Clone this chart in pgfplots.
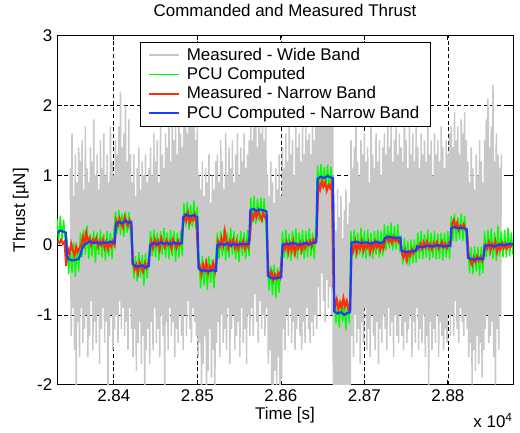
\documentclass[border=0pt]{standalone}
\usepackage{fontspec}
\setmainfont{Liberation Sans}
\usepackage{pgfplots}
\usepackage{pgfplotstable}
\pgfplotsset{compat=1.18}
\definecolor{wgray}{RGB}{200,200,200}
\definecolor{pgreen}{RGB}{0,255,0}
\definecolor{nred}{RGB}{255,45,10}
\definecolor{nblue}{RGB}{25,60,255}
\newcommand{\ff}{\fontsize{12.7}{15}\selectfont}

\pgfplotstableread[row sep=\\]{x y\\
28348 1.1\\ 28349 -1.3\\ 28350 1.6\\ 28351 -0.9\\ 28352 0.7\\ 28353 -1.5\\ 28354 1.3\\ 28355 -2.2\\ 28356 0.9\\ 28357 -1.1\\ 28358 1.4\\ 28359 -1.6\\
28360 1.2\\ 28361 -0.9\\ 28362 1.5\\ 28363 -1.4\\ 28364 0.8\\ 28365 -1.2\\ 28366 1.7\\ 28367 -1.0\\ 28368 1.1\\ 28369 -1.6\\ 28370 0.9\\ 28371 -1.3\\
28372 1.4\\ 28373 -0.8\\ 28374 1.2\\ 28375 -1.5\\ 28376 1.8\\ 28377 -1.1\\ 28378 1.0\\ 28379 -1.4\\ 28380 1.3\\ 28381 -1.0\\ 28382 0.8\\ 28383 -1.7\\
28384 1.5\\ 28385 -1.2\\ 28386 1.1\\ 28387 -0.9\\ 28388 1.6\\ 28389 -1.4\\ 28390 1.0\\ 28391 -1.1\\ 28392 1.3\\ 28393 -2.3\\ 28394 0.9\\ 28395 -1.3\\
28396 1.7\\ 28397 -1.0\\ 28398 1.2\\ 28399 -1.5\\ 28400 1.0\\ 28401 -1.2\\
28402 1.5\\ 28403 -1.0\\ 28404 1.3\\ 28405 -1.4\\ 28406 1.7\\ 28407 -0.8\\ 28408 2.2\\ 28409 -1.2\\ 28410 1.4\\ 28411 -0.9\\ 28412 1.6\\ 28413 -1.3\\
28414 2.0\\ 28415 -1.1\\ 28416 1.2\\ 28417 -1.5\\ 28418 1.8\\ 28419 -0.9\\ 28420 1.3\\ 28421 -1.2\\
28422 0.9\\ 28423 -1.6\\ 28424 1.3\\ 28425 -1.2\\ 28426 0.7\\ 28427 -1.8\\ 28428 1.1\\ 28429 -1.4\\ 28430 1.4\\ 28431 -1.1\\ 28432 0.8\\ 28433 -1.7\\
28434 1.2\\ 28435 -1.3\\ 28436 1.0\\ 28437 -2.4\\ 28438 1.3\\ 28439 -1.5\\ 28440 0.9\\ 28441 -1.2\\ 28442 1.1\\ 28443 -1.7\\
28444 1.4\\ 28445 -1.1\\ 28446 1.0\\ 28447 -1.5\\ 28448 1.6\\ 28449 -0.9\\ 28450 1.2\\ 28451 -1.4\\ 28452 1.5\\ 28453 -1.2\\ 28454 0.9\\ 28455 -1.6\\
28456 1.7\\ 28457 -1.0\\ 28458 1.3\\ 28459 -1.3\\ 28460 1.1\\ 28461 -2.3\\ 28462 1.6\\ 28463 -1.1\\ 28464 1.4\\ 28465 -1.5\\ 28466 1.9\\ 28467 -0.9\\
28468 1.2\\ 28469 -1.3\\ 28470 1.8\\ 28471 -1.1\\ 28472 1.5\\ 28473 -1.6\\ 28474 1.7\\ 28475 -1.2\\ 28476 1.3\\ 28477 -1.4\\ 28478 2.0\\ 28479 -1.0\\
28480 1.6\\ 28481 -1.3\\ 28482 1.4\\ 28483 -1.5\\
28484 1.8\\ 28485 -1.0\\ 28486 2.1\\ 28487 -1.3\\ 28488 1.6\\ 28489 -0.8\\ 28490 2.2\\ 28491 -1.2\\ 28492 1.7\\ 28493 -1.4\\ 28494 1.9\\ 28495 -0.9\\
28496 2.0\\ 28497 -1.1\\ 28498 1.5\\ 28499 -1.3\\ 28500 1.8\\
28501 -1.6\\ 28502 1.0\\ 28503 -1.4\\ 28504 0.8\\ 28505 -2.4\\ 28506 1.2\\ 28507 -1.7\\ 28508 0.7\\ 28509 -1.3\\ 28510 1.1\\ 28511 -2.3\\ 28512 0.9\\
28513 -1.8\\ 28514 1.3\\ 28515 -1.2\\ 28516 0.6\\ 28517 -1.9\\ 28518 1.0\\ 28519 -1.5\\ 28520 0.8\\ 28521 -2.3\\ 28522 1.2\\ 28523 -1.4\\
28524 1.3\\ 28525 -1.1\\ 28526 0.9\\ 28527 -1.6\\ 28528 1.5\\ 28529 -1.0\\ 28530 1.2\\ 28531 -1.4\\ 28532 0.8\\ 28533 -1.2\\ 28534 1.6\\ 28535 -1.5\\
28536 1.0\\ 28537 -0.9\\ 28538 1.4\\ 28539 -1.7\\ 28540 1.1\\ 28541 -1.2\\ 28542 1.5\\ 28543 -1.0\\ 28544 0.9\\ 28545 -1.5\\ 28546 1.3\\ 28547 -1.3\\
28548 1.6\\ 28549 -1.1\\ 28550 1.0\\ 28551 -1.6\\ 28552 1.4\\ 28553 -0.9\\ 28554 1.2\\ 28555 -1.4\\ 28556 1.6\\ 28557 -1.2\\ 28558 1.1\\ 28559 -1.7\\
28560 1.3\\ 28561 -1.0\\ 28562 1.5\\ 28563 -1.3\\
28564 1.8\\ 28565 -0.9\\ 28566 1.5\\ 28567 -1.3\\ 28568 2.0\\ 28569 -0.7\\ 28570 1.7\\ 28571 -1.1\\ 28572 1.4\\ 28573 -1.4\\ 28574 2.1\\ 28575 -0.8\\
28576 1.6\\ 28577 -1.2\\ 28578 1.9\\ 28579 -1.0\\ 28580 1.5\\ 28581 -1.3\\ 28582 1.8\\ 28583 -0.9\\
28584 1.0\\ 28585 -1.7\\ 28586 0.7\\ 28587 -1.5\\ 28588 1.2\\ 28589 -2.0\\ 28590 0.9\\ 28591 -2.3\\ 28592 0.6\\ 28593 -1.8\\ 28594 1.1\\ 28595 -2.2\\
28596 0.8\\ 28597 -1.6\\ 28598 1.3\\ 28599 -2.3\\ 28600 0.7\\ 28601 -1.9\\
28602 1.4\\ 28603 -1.2\\ 28604 1.1\\ 28605 -1.5\\ 28606 1.6\\ 28607 -1.0\\ 28608 1.2\\ 28609 -1.3\\ 28610 1.7\\ 28611 -0.9\\ 28612 1.3\\ 28613 -1.4\\
28614 1.5\\ 28615 -1.1\\ 28616 1.0\\ 28617 -1.5\\ 28618 1.8\\ 28619 -1.2\\ 28620 1.4\\ 28621 -1.0\\ 28622 1.6\\ 28623 -1.3\\ 28624 1.2\\ 28625 -1.5\\
28626 1.7\\ 28627 -1.1\\ 28628 1.3\\ 28629 -1.4\\ 28630 1.8\\ 28631 -0.9\\ 28632 1.5\\ 28633 -1.2\\ 28634 1.6\\ 28635 -1.4\\ 28636 1.3\\ 28637 -1.1\\
28638 1.9\\ 28639 -1.3\\ 28640 1.5\\ 28641 -1.0\\ 28642 1.7\\ 28643 -1.2\\
28644 2.6\\ 28645 -0.6\\ 28646 2.3\\ 28647 -1.0\\ 28648 2.8\\ 28649 -0.4\\ 28650 2.5\\ 28651 -0.8\\ 28652 2.2\\ 28653 -1.1\\ 28654 2.7\\ 28655 -0.5\\
28656 2.4\\ 28657 -0.9\\ 28658 2.6\\ 28659 -0.6\\ 28660 2.3\\ 28661 -1.0\\ 28662 2.5\\
28663 -2.8\\ 28664 0.6\\ 28665 -2.5\\ 28666 0.2\\ 28667 -3.0\\ 28668 0.8\\ 28669 -2.2\\ 28670 0.4\\ 28671 -2.7\\ 28672 0.7\\ 28673 -2.4\\ 28674 0.1\\
28675 -2.9\\ 28676 0.5\\ 28677 -2.3\\ 28678 0.8\\ 28679 -2.6\\ 28680 0.3\\ 28681 -2.8\\ 28682 0.6\\ 28683 -2.4\\
28684 1.5\\ 28685 -1.3\\ 28686 1.1\\ 28687 -1.6\\ 28688 1.4\\ 28689 -1.0\\ 28690 1.7\\ 28691 -1.4\\ 28692 1.2\\ 28693 -1.2\\ 28694 1.0\\ 28695 -1.7\\
28696 1.5\\ 28697 -1.1\\ 28698 1.3\\ 28699 -1.4\\ 28700 1.6\\ 28701 -0.9\\ 28702 1.2\\ 28703 -1.5\\ 28704 1.4\\ 28705 -1.2\\ 28706 0.9\\ 28707 -1.6\\
28708 1.7\\ 28709 -1.0\\ 28710 1.3\\ 28711 -1.3\\ 28712 1.1\\ 28713 -1.5\\ 28714 1.6\\ 28715 -1.1\\ 28716 1.2\\ 28717 -1.7\\ 28718 1.5\\ 28719 -1.2\\
28720 1.0\\ 28721 -1.4\\ 28722 1.4\\ 28723 -1.0\\
28724 1.6\\ 28725 -1.2\\ 28726 1.3\\ 28727 -1.5\\ 28728 1.8\\ 28729 -0.9\\ 28730 1.4\\ 28731 -1.3\\ 28732 1.7\\ 28733 -1.1\\ 28734 1.2\\ 28735 -1.6\\
28736 1.5\\ 28737 -1.0\\ 28738 1.8\\ 28739 -1.3\\ 28740 1.3\\ 28741 -1.4\\ 28742 1.6\\ 28743 -1.0\\ 28744 1.4\\
28745 -1.3\\ 28746 1.2\\ 28747 -1.5\\ 28748 2.9\\ 28749 -1.1\\ 28750 1.5\\ 28751 -1.4\\ 28752 1.1\\ 28753 -1.2\\ 28754 1.7\\ 28755 -1.0\\ 28756 1.3\\
28757 -1.6\\ 28758 1.6\\ 28759 -1.1\\ 28760 1.2\\ 28761 -1.4\\ 28762 1.8\\ 28763 -0.9\\ 28764 1.4\\ 28765 -1.5\\ 28766 1.1\\ 28767 -1.2\\ 28768 1.6\\
28769 -1.4\\ 28770 1.3\\ 28771 -1.0\\ 28772 1.5\\ 28773 -1.6\\ 28774 1.2\\ 28775 -1.3\\ 28776 1.7\\ 28777 -2.1\\ 28778 1.3\\ 28779 -1.1\\ 28780 1.5\\
28781 -1.5\\ 28782 1.0\\ 28783 -1.2\\ 28784 1.6\\ 28785 -1.4\\ 28786 1.3\\ 28787 -1.0\\ 28788 1.5\\ 28789 -1.6\\ 28790 1.2\\ 28791 -1.1\\ 28792 1.7\\
28793 -1.3\\ 28794 1.4\\ 28795 -1.5\\ 28796 1.1\\ 28797 -1.2\\ 28798 1.5\\ 28799 -1.4\\ 28800 1.3\\ 28801 -1.0\\ 28802 1.6\\ 28803 -1.3\\
28804 1.7\\ 28805 -1.0\\ 28806 1.4\\ 28807 -1.3\\ 28808 1.9\\ 28809 -0.8\\ 28810 1.5\\ 28811 -1.2\\ 28812 1.7\\ 28813 -1.4\\ 28814 1.3\\ 28815 -0.9\\
28816 1.8\\ 28817 -1.1\\ 28818 1.6\\ 28819 -1.3\\ 28820 1.9\\ 28821 -1.0\\ 28822 1.5\\ 28823 -1.2\\
28824 1.2\\ 28825 -1.6\\ 28826 0.9\\ 28827 -1.4\\ 28828 1.4\\ 28829 -2.0\\ 28830 1.1\\ 28831 -1.5\\ 28832 0.8\\ 28833 -1.8\\ 28834 1.3\\ 28835 -1.3\\
28836 1.0\\ 28837 -1.7\\ 28838 1.5\\ 28839 -1.4\\ 28840 1.2\\ 28841 -1.9\\ 28842 0.9\\ 28843 -1.5\\
28844 1.5\\ 28845 -1.2\\ 28846 1.8\\ 28847 -1.0\\ 28848 2.1\\ 28849 -1.4\\ 28850 1.4\\ 28851 -1.3\\ 28852 1.7\\ 28853 -1.1\\ 28854 2.3\\ 28855 -1.6\\
28856 1.2\\ 28857 -2.0\\ 28858 1.6\\ 28859 -1.2\\ 28860 1.3\\ 28861 -1.5\\ 28862 1.1\\ 28863 -1.0\\ 28864 1.3\\
}\wideband

\pgfplotstableread[row sep=\\]{x y\\
28332 0.38\\ 28334 0.06\\ 28336 0.42\\ 28338 0.08\\ 28340 0.36\\ 28342 0.04\\
28344 0.08\\ 28346 -0.42\\ 28348 -0.02\\ 28350 -0.4\\ 28352 0.04\\ 28354 -0.45\\ 28356 -0.05\\ 28358 -0.38\\
28360 0.18\\ 28362 -0.18\\ 28364 0.22\\ 28366 -0.14\\ 28368 0.28\\ 28370 -0.2\\ 28372 0.16\\ 28374 -0.16\\ 28376 0.2\\ 28378 -0.25\\ 28380 0.18\\
28382 -0.14\\ 28384 0.22\\ 28386 -0.18\\ 28388 0.16\\ 28390 -0.22\\ 28392 0.2\\ 28394 -0.16\\ 28396 0.18\\ 28398 -0.2\\ 28400 0.16\\
28402 0.48\\ 28404 0.16\\ 28406 0.5\\ 28408 0.14\\ 28410 0.45\\ 28412 0.12\\ 28414 0.48\\ 28416 0.18\\ 28418 0.47\\ 28420 0.16\\
28422 -0.12\\ 28424 -0.48\\ 28426 -0.16\\ 28428 -0.52\\ 28430 -0.1\\ 28432 -0.46\\ 28434 -0.14\\ 28436 -0.58\\ 28438 -0.12\\ 28440 -0.48\\ 28442 -0.16\\
28444 0.2\\ 28446 -0.16\\ 28448 0.22\\ 28450 -0.18\\ 28452 0.18\\ 28454 -0.22\\ 28456 0.2\\ 28458 -0.14\\ 28460 0.25\\ 28462 -0.18\\ 28464 0.18\\
28466 -0.2\\ 28468 0.22\\ 28470 -0.16\\ 28472 0.2\\ 28474 -0.24\\ 28476 0.18\\ 28478 -0.18\\ 28480 0.2\\ 28482 -0.16\\
28484 0.6\\ 28486 0.26\\ 28488 0.62\\ 28490 0.22\\ 28492 0.58\\ 28494 0.26\\ 28496 0.64\\ 28498 0.24\\ 28500 0.55\\
28502 -0.18\\ 28504 -0.62\\ 28506 -0.16\\ 28508 -0.58\\ 28510 -0.2\\ 28512 -0.64\\ 28514 -0.16\\ 28516 -0.54\\ 28518 -0.2\\ 28520 -0.62\\ 28522 -0.18\\
28524 0.18\\ 28526 -0.2\\ 28528 0.2\\ 28530 -0.16\\ 28532 0.24\\ 28534 -0.22\\ 28536 0.18\\ 28538 -0.18\\ 28540 0.25\\ 28542 -0.14\\ 28544 0.2\\
28546 -0.2\\ 28548 0.16\\ 28550 -0.24\\ 28552 0.2\\ 28554 -0.16\\ 28556 0.18\\ 28558 -0.2\\ 28560 0.22\\ 28562 -0.16\\
28564 0.68\\ 28566 0.32\\ 28568 0.7\\ 28570 0.3\\ 28572 0.66\\ 28574 0.34\\ 28576 0.68\\ 28578 0.32\\ 28580 0.67\\ 28582 0.34\\
28584 -0.28\\ 28586 -0.65\\ 28588 -0.3\\ 28590 -0.72\\ 28592 -0.28\\ 28594 -0.76\\ 28596 -0.32\\ 28598 -0.68\\ 28600 -0.28\\
28602 0.2\\ 28604 -0.18\\ 28606 0.22\\ 28608 -0.2\\ 28610 0.16\\ 28612 -0.22\\ 28614 0.2\\ 28616 -0.16\\ 28618 0.24\\ 28620 -0.2\\ 28622 0.18\\
28624 -0.14\\ 28626 0.22\\ 28628 -0.2\\ 28630 0.2\\ 28632 -0.18\\ 28634 0.24\\ 28636 -0.16\\ 28638 0.18\\ 28640 -0.2\\ 28642 0.28\\
28644 1.14\\ 28646 0.82\\ 28648 1.16\\ 28650 0.8\\ 28652 1.12\\ 28654 0.84\\ 28656 1.15\\ 28658 0.8\\ 28660 1.12\\ 28662 0.82\\
28664 -0.8\\ 28666 -1.12\\ 28668 -0.82\\ 28670 -1.18\\ 28672 -0.8\\ 28674 -1.1\\ 28676 -0.82\\ 28678 -1.22\\ 28680 -0.8\\ 28682 -1.12\\
28684 0.2\\ 28686 -0.16\\ 28688 0.22\\ 28690 -0.2\\ 28692 0.18\\ 28694 -0.14\\ 28696 0.25\\ 28698 -0.18\\ 28700 0.2\\ 28702 -0.2\\ 28704 0.22\\
28706 -0.16\\ 28708 0.18\\ 28710 -0.2\\ 28712 0.2\\ 28714 -0.14\\ 28716 0.22\\ 28718 -0.18\\ 28720 0.2\\ 28722 -0.16\\
28724 0.3\\ 28726 -0.08\\ 28728 0.28\\ 28730 -0.05\\ 28732 0.32\\ 28734 -0.08\\ 28736 0.28\\ 28738 -0.06\\ 28740 0.3\\ 28742 -0.05\\
28744 0.08\\ 28746 -0.28\\ 28748 0.1\\ 28750 -0.25\\ 28752 0.06\\ 28754 -0.3\\ 28756 0.08\\ 28758 -0.26\\ 28760 0.08\\ 28762 -0.25\\
28764 0.18\\ 28766 -0.2\\ 28768 0.2\\ 28770 -0.2\\ 28772 0.16\\ 28774 -0.18\\ 28776 0.22\\ 28778 -0.22\\ 28780 0.18\\ 28782 -0.18\\ 28784 0.2\\
28786 -0.2\\ 28788 0.16\\ 28790 -0.2\\ 28792 0.18\\ 28794 -0.22\\ 28796 0.18\\ 28798 -0.18\\ 28800 0.2\\ 28802 -0.2\\
28804 0.42\\ 28806 0.06\\ 28808 0.45\\ 28810 0.05\\ 28812 0.4\\ 28814 0.08\\ 28816 0.45\\ 28818 0.06\\ 28820 0.42\\ 28822 0.05\\
28824 -0.02\\ 28826 -0.4\\ 28828 -0.03\\ 28830 -0.42\\ 28832 -0.02\\ 28834 -0.38\\ 28836 -0.03\\ 28838 -0.44\\ 28840 -0.02\\ 28842 -0.4\\
28844 0.2\\ 28846 -0.18\\ 28848 0.22\\ 28850 -0.16\\ 28852 0.24\\ 28854 -0.2\\ 28856 0.18\\ 28858 -0.22\\ 28860 0.28\\ 28862 -0.16\\ 28864 0.2\\
28866 -0.18\\ 28868 0.22\\ 28870 -0.18\\ 28872 0.25\\ 28874 -0.16\\ 28876 0.18\\ 28878 -0.14\\
}\pcu

\pgfplotstableread[row sep=\\]{x y\\
28333 0.06\\ 28335 0.03\\ 28337 0.08\\ 28339 0.02\\ 28341 0.05\\ 28343 -0.3\\
28345 -0.05\\ 28347 -0.12\\ 28349 0.02\\ 28351 -0.08\\ 28353 -0.15\\ 28355 -0.02\\ 28357 -0.1\\ 28359 -0.04\\
28361 0.0\\ 28363 0.12\\ 28365 0.02\\ 28367 0.18\\ 28369 0.05\\ 28371 0.1\\ 28373 0.0\\ 28375 0.08\\ 28377 0.04\\ 28379 0.1\\ 28381 -0.02\\
28383 0.06\\ 28385 0.0\\ 28387 0.08\\ 28389 -0.04\\ 28391 0.05\\ 28393 -0.06\\ 28395 0.03\\ 28397 -0.02\\ 28399 0.06\\ 28401 0.0\\
28403 0.35\\ 28405 0.28\\ 28407 0.38\\ 28409 0.3\\ 28411 0.25\\ 28413 0.4\\ 28415 0.32\\ 28417 0.27\\ 28419 0.36\\ 28421 0.3\\
28423 -0.22\\ 28425 -0.35\\ 28427 -0.28\\ 28429 -0.4\\ 28431 -0.25\\ 28433 -0.32\\ 28435 -0.38\\ 28437 -0.26\\ 28439 -0.33\\ 28441 -0.28\\ 28443 -0.1\\
28445 0.05\\ 28447 -0.04\\ 28449 0.08\\ 28451 0.0\\ 28453 0.06\\ 28455 -0.06\\ 28457 0.1\\ 28459 0.02\\ 28461 -0.03\\ 28463 0.07\\ 28465 0.0\\
28467 0.05\\ 28469 -0.05\\ 28471 0.08\\ 28473 0.02\\ 28475 -0.04\\ 28477 0.06\\ 28479 0.0\\ 28481 0.04\\
28483 0.3\\ 28485 0.42\\ 28487 0.35\\ 28489 0.46\\ 28491 0.32\\ 28493 0.4\\ 28495 0.36\\ 28497 0.44\\ 28499 0.3\\
28501 -0.2\\ 28503 -0.3\\ 28505 -0.42\\ 28507 -0.28\\ 28509 -0.36\\ 28511 -0.25\\ 28513 -0.4\\ 28515 -0.3\\ 28517 -0.34\\ 28519 -0.26\\ 28521 -0.38\\ 28523 -0.2\\
28525 0.05\\ 28527 -0.02\\ 28529 0.1\\ 28531 0.0\\ 28533 0.2\\ 28535 0.04\\ 28537 -0.05\\ 28539 0.06\\ 28541 0.0\\ 28543 0.08\\ 28545 -0.04\\
28547 0.05\\ 28549 -0.06\\ 28551 0.03\\ 28553 -0.02\\ 28555 0.06\\ 28557 -0.05\\ 28559 0.04\\ 28561 -0.03\\ 28563 0.1\\
28565 0.45\\ 28567 0.38\\ 28569 0.48\\ 28571 0.4\\ 28573 0.5\\ 28575 0.42\\ 28577 0.36\\ 28579 0.46\\ 28581 0.4\\ 28583 0.35\\
28585 -0.36\\ 28587 -0.45\\ 28589 -0.38\\ 28591 -0.5\\ 28593 -0.42\\ 28595 -0.48\\ 28597 -0.4\\ 28599 -0.46\\ 28601 -0.2\\
28603 0.0\\ 28605 -0.06\\ 28607 0.04\\ 28609 -0.1\\ 28611 0.02\\ 28613 -0.08\\ 28615 0.05\\ 28617 -0.12\\ 28619 0.0\\ 28621 -0.05\\ 28623 0.03\\
28625 -0.08\\ 28627 0.02\\ 28629 -0.04\\ 28631 0.05\\ 28633 0.0\\ 28635 0.06\\ 28637 -0.02\\ 28639 0.08\\ 28641 0.04\\ 28643 0.12\\
28645 0.88\\ 28647 0.8\\ 28649 0.92\\ 28651 0.84\\ 28653 0.9\\ 28655 0.78\\ 28657 0.86\\ 28659 0.82\\ 28661 0.9\\
28663 -0.6\\ 28665 -0.88\\ 28667 -0.78\\ 28669 -0.92\\ 28671 -0.82\\ 28673 -0.9\\ 28675 -0.76\\ 28677 -0.88\\ 28679 -0.8\\ 28681 -0.92\\ 28683 -0.86\\
28685 0.0\\ 28687 -0.08\\ 28689 0.05\\ 28691 -0.1\\ 28693 0.02\\ 28695 -0.05\\ 28697 0.06\\ 28699 -0.08\\ 28701 0.0\\ 28703 -0.04\\ 28705 0.04\\
28707 -0.1\\ 28709 0.02\\ 28711 -0.06\\ 28713 0.05\\ 28715 -0.03\\ 28717 0.03\\ 28719 -0.07\\ 28721 0.02\\ 28723 -0.05\\
28725 0.08\\ 28727 0.12\\ 28729 0.05\\ 28731 0.1\\ 28733 0.03\\ 28735 0.12\\ 28737 0.06\\ 28739 0.1\\ 28741 0.04\\ 28743 0.08\\
28745 -0.12\\ 28747 -0.18\\ 28749 -0.08\\ 28751 -0.22\\ 28753 -0.1\\ 28755 -0.15\\ 28757 -0.06\\ 28759 -0.12\\ 28761 -0.08\\
28763 -0.02\\ 28765 -0.06\\ 28767 0.02\\ 28769 -0.05\\ 28771 0.04\\ 28773 -0.03\\ 28775 0.05\\ 28777 -0.04\\ 28779 0.02\\ 28781 -0.06\\ 28783 0.03\\
28785 -0.02\\ 28787 0.04\\ 28789 -0.05\\ 28791 0.0\\ 28793 0.05\\ 28795 -0.03\\ 28797 0.02\\ 28799 -0.04\\ 28801 0.03\\ 28803 0.0\\
28805 0.3\\ 28807 0.36\\ 28809 0.26\\ 28811 0.32\\ 28813 0.22\\ 28815 0.28\\ 28817 0.24\\ 28819 0.3\\ 28821 0.22\\ 28823 0.18\\
28825 -0.15\\ 28827 -0.22\\ 28829 -0.28\\ 28831 -0.18\\ 28833 -0.24\\ 28835 -0.16\\ 28837 -0.22\\ 28839 -0.17\\ 28841 -0.23\\ 28843 -0.12\\
28845 0.0\\ 28847 -0.05\\ 28849 0.04\\ 28851 -0.08\\ 28853 0.02\\ 28855 -0.04\\ 28857 0.05\\ 28859 -0.1\\ 28861 0.0\\ 28863 -0.06\\ 28865 0.03\\
28867 -0.04\\ 28869 0.02\\ 28871 -0.05\\ 28873 0.0\\ 28875 -0.03\\ 28877 0.02\\
}\measnarrow

\pgfplotstableread[row sep=\\]{x y\\
28332 0.17\\ 28336 0.21\\ 28340 0.19\\ 28342.5 0.18\\ 28344 -0.15\\ 28346 -0.2\\ 28350 -0.22\\ 28354 -0.21\\ 28358 -0.2\\ 28360 -0.14\\
28362 -0.05\\ 28364 0.0\\ 28368 0.03\\ 28372 0.05\\ 28376 0.03\\ 28380 0.04\\ 28384 0.02\\ 28388 0.04\\ 28392 0.03\\ 28396 0.05\\ 28401 0.03\\
28402.5 0.3\\ 28406 0.33\\ 28410 0.31\\ 28414 0.35\\ 28418 0.32\\ 28421 0.33\\
28422.5 -0.27\\ 28426 -0.3\\ 28430 -0.31\\ 28434 -0.29\\ 28438 -0.32\\ 28442 -0.3\\
28443.5 0.0\\ 28448 0.03\\ 28452 0.01\\ 28456 0.04\\ 28460 0.02\\ 28464 0.03\\ 28468 0.01\\ 28472 0.04\\ 28476 0.02\\ 28481.5 0.03\\
28483 0.4\\ 28487 0.44\\ 28491 0.41\\ 28495 0.43\\ 28500 0.4\\
28501.5 -0.33\\ 28505 -0.37\\ 28509 -0.36\\ 28513 -0.38\\ 28517 -0.36\\ 28522.5 -0.37\\
28524 0.0\\ 28528 0.02\\ 28532 0.0\\ 28536 0.03\\ 28540 -0.01\\ 28544 0.02\\ 28548 0.0\\ 28552 0.02\\ 28556 0.01\\ 28562 0.02\\
28563.5 0.5\\ 28567 0.52\\ 28571 0.49\\ 28575 0.51\\ 28579 0.5\\ 28583 0.48\\
28584.5 -0.44\\ 28588 -0.47\\ 28592 -0.48\\ 28596 -0.47\\ 28600.5 -0.46\\
28602 0.0\\ 28606 0.02\\ 28610 0.01\\ 28614 0.03\\ 28618 0.02\\ 28622 0.0\\ 28626 0.02\\ 28630 0.03\\ 28634 0.01\\ 28638 0.03\\ 28642.5 0.04\\
28644 0.95\\ 28648 0.98\\ 28652 0.96\\ 28656 0.99\\ 28660 0.97\\ 28662.5 0.96\\
28664 -0.95\\ 28668 -0.98\\ 28672 -0.96\\ 28676 -1.0\\ 28680 -0.97\\ 28683 -0.96\\
28684.5 0.03\\ 28690 0.05\\ 28696 0.03\\ 28702 0.04\\ 28708 0.02\\ 28714 0.05\\ 28718 0.03\\ 28723 0.04\\
28724.5 0.1\\ 28730 0.12\\ 28736 0.1\\ 28743 0.11\\
28744.5 -0.08\\ 28750 -0.1\\ 28756 -0.09\\ 28762 -0.08\\
28763.5 -0.02\\ 28770 -0.03\\ 28776 -0.01\\ 28782 -0.02\\ 28788 0.0\\ 28794 -0.02\\ 28803 -0.01\\
28804 0.24\\ 28808 0.26\\ 28812 0.24\\ 28816 0.25\\ 28822.5 0.23\\
28824 -0.18\\ 28828 -0.2\\ 28832 -0.21\\ 28836 -0.19\\ 28842.5 -0.2\\
28844 -0.01\\ 28850 0.0\\ 28856 -0.02\\ 28862 0.01\\ 28868 0.0\\ 28874 0.02\\ 28878 0.01\\
}\pcunarrow

\begin{document}
\begin{tikzpicture}
\begin{axis}[
  scale only axis,
  width=342pt, height=261.75pt,
  xmin=28332, xmax=28878,
  ymin=-2, ymax=3,
  xtick={28400,28500,28600,28700,28800},
  xticklabels={2.84,2.85,2.86,2.87,2.88},
  scaled x ticks=false,
  ytick={-2,-1,0,1,2,3},
  /pgf/number format/assume math mode=true,
  tick label style={font=\ff},
  label style={font=\ff},
  title style={font=\ff, at={(rel axis cs:0.5,1)}, anchor=base, yshift=8.25pt},
  title={Commanded and Measured Thrust},
  xlabel={Time [s]},
  xlabel style={at={(rel axis cs:0.5,0)}, anchor=base, yshift=-26.25pt},
  ylabel={Thrust [µN]},
  ylabel style={at={([xshift=-24pt]rel axis cs:0,0.5)}, anchor=base, rotate=0},
  tick align=inside,
  xtick pos=both, ytick pos=both,
  major tick length=3.4pt,
  every tick/.style={black, line width=0.6pt},
  axis line style={black, line width=0.6pt},
  grid=major,
  major grid style={black, line width=0.45pt, dash pattern=on 3pt off 2pt},
  legend style={at={(0.5,0.983)}, anchor=north, draw=black, fill=white, line width=0.6pt,
    font=\ff, inner xsep=6pt, inner ysep=2.5pt, row sep=-0.2pt,
    /tikz/every odd column/.append style={column sep=3pt}},
  legend cell align=left,
  legend image code/.code={\draw[#1] (0pt,0pt) -- (22.5pt,0pt);},
]
\addplot[wgray, line width=1.15pt] table {\wideband};
\addlegendentry{Measured - Wide Band}
\addplot[pgreen, line width=1.0pt] table {\pcu};
\addlegendentry{PCU Computed}
\addplot[nred, line width=1.5pt] table {\measnarrow};
\addlegendentry{Measured - Narrow Band}
\addplot[nblue, line width=1.6pt] table {\pcunarrow};
\addlegendentry{PCU Computed - Narrow Band}
\end{axis}
\node[anchor=base east, font=\ff, inner sep=0pt] at ([yshift=-32.25pt]current axis.south east) {x 10\textsuperscript{4}};
\path (current axis.south west) ++(-42.75pt,-36pt) rectangle ++(390pt,322.5pt);
\end{tikzpicture}
\end{document}
